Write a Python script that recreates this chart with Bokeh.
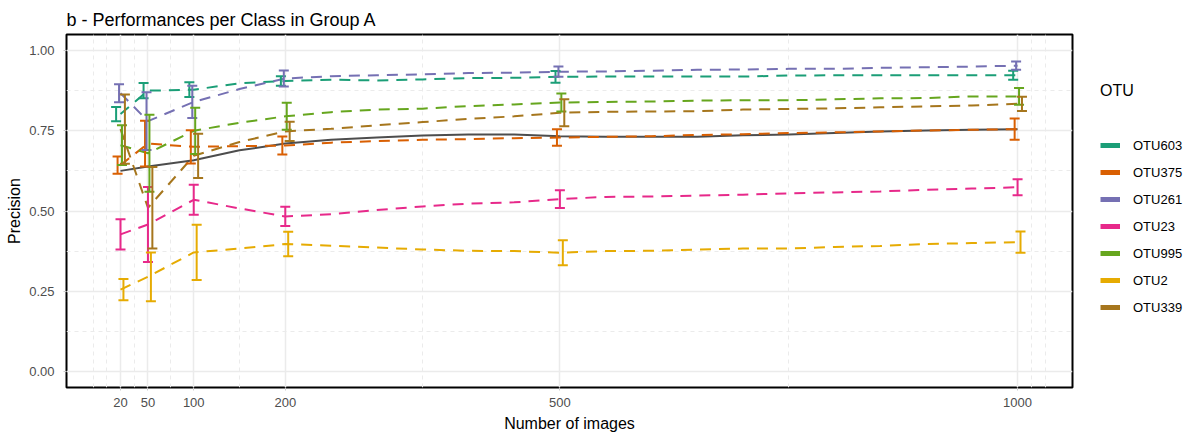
from bokeh.plotting import figure
from bokeh.layouts import row
from bokeh.models import (ColumnDataSource, Whisker, TeeHead, FixedTicker, Legend,
                          LegendItem, PrintfTickFormatter, Range1d)
from bokeh.embed import file_html
from bokeh.resources import INLINE

# ---------------- data ----------------
n_images = [20, 50, 100, 150, 200, 250, 300, 350, 400, 450, 500,
            550, 600, 650, 700, 750, 800, 850, 900, 950, 1000]

otu_names = ["OTU603", "OTU375", "OTU261", "OTU23", "OTU995", "OTU2", "OTU339"]
otu_colors = ["#1B9E77", "#D95F02", "#7570B3", "#E7298A", "#66A61E", "#E6AB02", "#A6761D"]

prec_otu603 = [0.802, 0.875, 0.878, 0.898, 0.905, 0.909, 0.907, 0.910, 0.914, 0.915, 0.918,
               0.919, 0.919, 0.919, 0.919, 0.922, 0.923, 0.923, 0.923, 0.923, 0.923]
prec_otu375 = [0.643, 0.710, 0.700, 0.702, 0.704, 0.713, 0.718, 0.722, 0.724, 0.727, 0.729,
               0.731, 0.733, 0.737, 0.739, 0.743, 0.745, 0.748, 0.751, 0.753, 0.755]
prec_otu261 = [0.867, 0.780, 0.840, 0.880, 0.913, 0.920, 0.923, 0.926, 0.930, 0.931, 0.934,
               0.935, 0.937, 0.940, 0.941, 0.943, 0.943, 0.946, 0.948, 0.950, 0.953]
prec_otu23 = [0.427, 0.458, 0.535, 0.508, 0.483, 0.490, 0.503, 0.514, 0.523, 0.527, 0.537,
              0.544, 0.545, 0.548, 0.551, 0.555, 0.558, 0.561, 0.566, 0.570, 0.574]
prec_otu995 = [0.705, 0.680, 0.750, 0.775, 0.795, 0.808, 0.816, 0.819, 0.827, 0.832, 0.838,
               0.840, 0.841, 0.844, 0.845, 0.845, 0.848, 0.851, 0.852, 0.857, 0.857]
prec_otu2 = [0.255, 0.295, 0.371, 0.383, 0.397, 0.392, 0.386, 0.380, 0.376, 0.375, 0.370,
             0.375, 0.376, 0.380, 0.383, 0.383, 0.388, 0.391, 0.397, 0.400, 0.403]
prec_otu339 = [0.755, 0.510, 0.672, 0.715, 0.748, 0.756, 0.767, 0.777, 0.787, 0.795, 0.806,
               0.809, 0.810, 0.811, 0.816, 0.818, 0.820, 0.823, 0.826, 0.829, 0.834]
prec_mean = [0.625, 0.639, 0.658, 0.689, 0.710, 0.722, 0.729, 0.735, 0.738, 0.738, 0.733,
             0.731, 0.731, 0.731, 0.736, 0.738, 0.743, 0.748, 0.751, 0.753, 0.755]

err_images = [20, 50, 100, 200, 500, 1000]
err_otu603 = [0.022, 0.024, 0.023, 0.015, 0.018, 0.014]
err_otu375 = [0.027, 0.071, 0.052, 0.028, 0.026, 0.033]
err_otu261 = [0.028, 0.090, 0.050, 0.025, 0.016, 0.013]
err_otu23 = [0.047, 0.117, 0.047, 0.030, 0.028, 0.025]
err_otu995 = [0.062, 0.120, 0.072, 0.042, 0.028, 0.026]
err_otu2 = [0.033, 0.076, 0.086, 0.038, 0.039, 0.033]
err_otu339 = [0.108, 0.127, 0.069, 0.030, 0.042, 0.022]

x_major = [20, 50, 100, 200, 500, 1000]
x_minor = [-10, 5, 35, 75, 150, 350, 750, 1015, 1030]
y_major = [0.0, 0.25, 0.5, 0.75, 1.0]
y_minor = [0.125, 0.375, 0.625, 0.875]

series = [prec_otu603, prec_otu375, prec_otu261, prec_otu23, prec_otu995, prec_otu2, prec_otu339]
errors = [err_otu603, err_otu375, err_otu261, err_otu23, err_otu995, err_otu2, err_otu339]

FONT = "Liberation Sans"
MAIN_W = 1074

p = figure(width=MAIN_W, height=439, output_backend="svg", toolbar_location=None,
           x_range=Range1d(-39, 1060), y_range=Range1d(-0.05, 1.05),
           min_border_left=66, min_border_right=2, min_border_top=34, min_border_bottom=52)

p.background_fill_color = "white"
p.border_fill_color = "white"
p.outline_line_color = "black"
p.outline_line_width = 2
p.outline_line_alpha = 1.0

p.title.text = "b - Performances per Class in Group A"
p.title.text_font = FONT
p.title.text_font_size = "18px"
p.title.text_font_style = "normal"
p.title.text_color = "black"
p.title.align = "left"
p.title.standoff = 10

xt = FixedTicker(ticks=x_major, minor_ticks=x_minor)
yt = FixedTicker(ticks=y_major, minor_ticks=y_minor)
p.xaxis.ticker = xt
p.xgrid.ticker = xt
p.yaxis.ticker = yt
p.ygrid.ticker = yt
p.yaxis.formatter = PrintfTickFormatter(format="%.2f")

for ax in (p.xaxis, p.yaxis):
    ax.axis_line_color = None
    ax.major_tick_in = 0
    ax.major_tick_out = 3
    ax.major_tick_line_color = "#CCCCCC"
    ax.minor_tick_line_color = None
    ax.major_label_text_font = FONT
    ax.major_label_text_font_size = "13px"
    ax.major_label_text_color = "#4D4D4D"
    ax.axis_label_text_font = FONT
    ax.axis_label_text_font_size = "16px"
    ax.axis_label_text_font_style = "normal"
    ax.axis_label_text_color = "black"
p.xaxis.major_label_standoff = 6
p.yaxis.major_label_standoff = 8
p.xaxis.axis_label = "Number of images"
p.yaxis.axis_label = "Precision"
p.xaxis.axis_label_standoff = 5
p.yaxis.axis_label_standoff = 3

for g in (p.xgrid, p.ygrid):
    g.grid_line_color = "#EBEBEB"
    g.grid_line_width = 1.5
    g.minor_grid_line_color = "#EBEBEB"
    g.minor_grid_line_width = 1
    g.minor_grid_line_dash = "4 4"

# overall line
p.line(n_images, prec_mean, line_color="#4D4D4D", line_width=2)

for i, (name, col, vals, errs) in enumerate(zip(otu_names, otu_colors, series, errors)):
    p.line(n_images, vals, line_color=col, line_width=2, line_dash="11 8")
    centers = [vals[n_images.index(v)] for v in err_images]
    src = ColumnDataSource(dict(
        x=[v + (i - 3) * 1.6 for v in err_images],
        lower=[c - e for c, e in zip(centers, errs)],
        upper=[c + e for c, e in zip(centers, errs)],
    ))
    w = Whisker(base="x", lower="lower", upper="upper", source=src, dimension="height",
                line_color=col, line_width=2, level="glyph",
                upper_head=TeeHead(size=10, line_color=col, line_width=2),
                lower_head=TeeHead(size=10, line_color=col, line_width=2))
    p.add_layout(w)

# ---------------- legend panel (separate figure at the right) ----------------
lg = figure(width=1195 - MAIN_W, height=439, output_backend="svg", toolbar_location=None,
            x_range=Range1d(0, 1), y_range=Range1d(0, 1),
            x_axis_location=None, y_axis_location=None,
            min_border_left=0, min_border_right=0, min_border_top=0, min_border_bottom=0)
lg.outline_line_color = None
lg.xgrid.visible = False
lg.ygrid.visible = False
lg.background_fill_color = "white"
lg.border_fill_color = "white"

legend_items = []
for name, col in zip(otu_names, otu_colors):
    key = lg.line(x=[0.5], y=[0.5], line_color=col, line_width=5)
    legend_items.append(LegendItem(label=name, renderers=[key]))

legend = Legend(items=legend_items, location=(26, 70), title="OTU",
                title_text_font=FONT, title_text_font_size="16px", title_text_font_style="normal",
                title_text_color="black", title_standoff=35,
                label_text_font=FONT, label_text_font_size="13px", label_text_color="black",
                glyph_width=20, glyph_height=20, label_height=20, label_standoff=13,
                spacing=7, padding=0, margin=0, border_line_color=None,
                background_fill_alpha=0)
lg.add_layout(legend, "center")

layout = row(p, lg, spacing=0)
open("out.html", "w").write(file_html(layout, INLINE))
